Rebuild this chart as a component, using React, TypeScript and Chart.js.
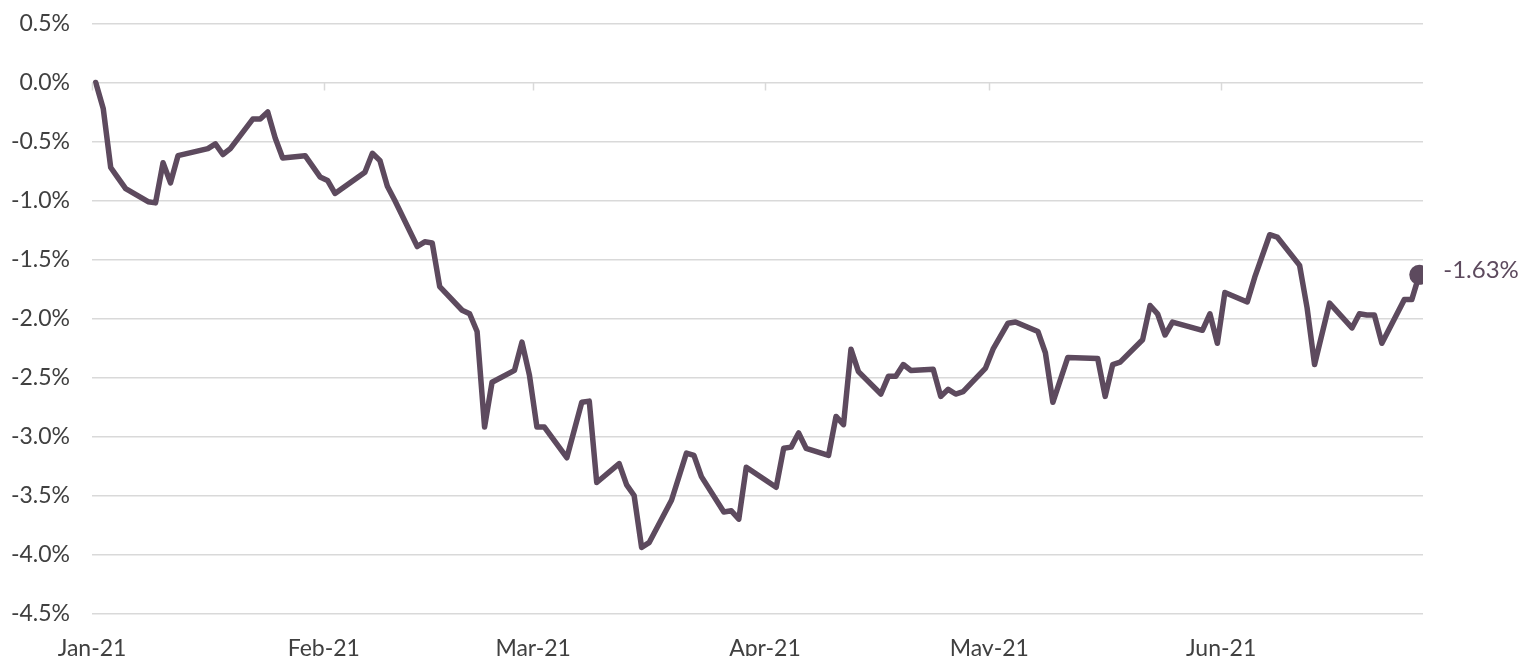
import React, { useEffect, useRef } from 'react';
import { Chart, registerables } from 'chart.js';

Chart.register(...registerables);

// ---- data ----
const baseDate = '2021-01-01';
const axisEndDate = '2021-06-28';

const monthTickDates = ['2021-01-01', '2021-02-01', '2021-03-01', '2021-04-01', '2021-05-01', '2021-06-01'];
const monthTickLabels = ['Jan-21', 'Feb-21', 'Mar-21', 'Apr-21', 'May-21', 'Jun-21'];

const yTickMin = -4.5;
const yTickMax = 0.5;
const yTickStep = 0.5;

const dates = [
  // Jan
  '2021-01-01', '2021-01-02', '2021-01-03', '2021-01-04', '2021-01-05', '2021-01-08', '2021-01-09',
  '2021-01-10', '2021-01-11', '2021-01-12', '2021-01-16', '2021-01-17', '2021-01-18', '2021-01-19',
  '2021-01-22', '2021-01-23', '2021-01-24', '2021-01-25', '2021-01-26', '2021-01-29', '2021-01-31',
  // Feb
  '2021-02-01', '2021-02-02', '2021-02-06', '2021-02-07', '2021-02-08', '2021-02-09', '2021-02-10',
  '2021-02-13', '2021-02-14', '2021-02-15', '2021-02-16', '2021-02-19', '2021-02-20', '2021-02-21',
  '2021-02-22', '2021-02-23', '2021-02-26', '2021-02-27', '2021-02-28',
  // Mar
  '2021-03-01', '2021-03-02', '2021-03-05', '2021-03-07', '2021-03-08', '2021-03-09', '2021-03-12',
  '2021-03-13', '2021-03-14', '2021-03-15', '2021-03-16', '2021-03-19', '2021-03-21', '2021-03-22',
  '2021-03-23', '2021-03-26', '2021-03-27', '2021-03-28', '2021-03-29',
  // Apr
  '2021-04-02', '2021-04-03', '2021-04-04', '2021-04-05', '2021-04-06', '2021-04-09', '2021-04-10',
  '2021-04-11', '2021-04-12', '2021-04-13', '2021-04-16', '2021-04-17', '2021-04-18', '2021-04-19',
  '2021-04-20', '2021-04-23', '2021-04-24', '2021-04-25', '2021-04-26', '2021-04-27', '2021-04-30',
  // May
  '2021-05-01', '2021-05-03', '2021-05-04', '2021-05-07', '2021-05-08', '2021-05-09', '2021-05-11',
  '2021-05-15', '2021-05-16', '2021-05-17', '2021-05-18', '2021-05-21', '2021-05-22', '2021-05-23',
  '2021-05-24', '2021-05-25', '2021-05-29', '2021-05-30', '2021-05-31',
  // Jun
  '2021-06-01', '2021-06-04', '2021-06-05', '2021-06-07', '2021-06-08', '2021-06-11', '2021-06-12',
  '2021-06-13', '2021-06-15', '2021-06-18', '2021-06-19', '2021-06-20', '2021-06-21', '2021-06-22',
  '2021-06-25', '2021-06-26', '2021-06-27',
];

const returnsPct = [
  // Jan
  0.0, -0.22, -0.72, -0.81, -0.9, -1.01, -1.02,
  -0.68, -0.85, -0.62, -0.56, -0.52, -0.61, -0.56,
  -0.31, -0.31, -0.25, -0.47, -0.64, -0.62, -0.8,
  // Feb
  -0.83, -0.94, -0.76, -0.6, -0.66, -0.88, -1.0,
  -1.39, -1.35, -1.36, -1.73, -1.93, -1.96, -2.11,
  -2.92, -2.54, -2.44, -2.2, -2.48,
  // Mar
  -2.92, -2.92, -3.18, -2.71, -2.7, -3.39, -3.23,
  -3.41, -3.5, -3.94, -3.9, -3.54, -3.14, -3.16,
  -3.34, -3.64, -3.63, -3.7, -3.26,
  // Apr
  -3.43, -3.1, -3.09, -2.97, -3.1, -3.16, -2.83,
  -2.9, -2.26, -2.45, -2.64, -2.49, -2.49, -2.39,
  -2.44, -2.43, -2.66, -2.6, -2.64, -2.62, -2.42,
  // May
  -2.26, -2.04, -2.03, -2.11, -2.29, -2.71, -2.33,
  -2.34, -2.66, -2.39, -2.37, -2.18, -1.89, -1.96,
  -2.14, -2.03, -2.1, -1.96, -2.21,
  // Jun
  -1.78, -1.86, -1.65, -1.29, -1.31, -1.55, -1.91,
  -2.39, -1.87, -2.08, -1.96, -1.97, -1.97, -2.21,
  -1.84, -1.84, -1.63,
];

// ---- helpers ----
const DAY = 86400000;
const dayIndex = (d: string) => (Date.parse(d + 'T00:00:00Z') - Date.parse(baseDate + 'T00:00:00Z')) / DAY;

const LINE_COLOR = '#5D4A5E';
const GRID_COLOR = '#D9D9D9';
const TEXT_COLOR = '#404040';
const FONT_FAMILY = 'Lato, "Open Sans", sans-serif';

const zeroLineTicks = {
  id: 'zeroLineTicks',
  afterDraw(chart: any) {
    const { ctx, scales } = chart;
    const xs = scales.x;
    const ys = scales.y;
    const y0 = ys.getPixelForValue(0);
    ctx.save();
    ctx.strokeStyle = GRID_COLOR;
    ctx.lineWidth = 1.5;
    monthTickDates.forEach((d) => {
      const x = Math.round(xs.getPixelForValue(dayIndex(d))) + 0.5;
      ctx.beginPath();
      ctx.moveTo(x, y0);
      ctx.lineTo(x, y0 + 8);
      ctx.stroke();
    });
    ctx.restore();
  },
};

const endLabel = {
  id: 'endLabel',
  afterDatasetsDraw(chart: any) {
    const { ctx } = chart;
    const meta = chart.getDatasetMeta(0);
    const last = meta.data[meta.data.length - 1];
    if (!last) return;
    const v = returnsPct[returnsPct.length - 1];
    ctx.save();
    ctx.fillStyle = LINE_COLOR;
    ctx.font = `400 24px ${FONT_FAMILY}`;
    ctx.textAlign = 'left';
    ctx.textBaseline = 'middle';
    ctx.fillText(`${v.toFixed(2)}%`, last.x + 24, last.y - 5);
    ctx.restore();
  },
};

export default function App() {
  const canvasRef = useRef<HTMLCanvasElement | null>(null);

  useEffect(() => {
    document.body.style.margin = '0';
    const canvas = canvasRef.current;
    if (!canvas) return;
    const points = dates.map((d, i) => ({ x: dayIndex(d) + 0.5, y: returnsPct[i] }));
    const lastIdx = points.length - 1;

    const chart = new Chart(canvas, {
      type: 'line',
      data: {
        datasets: [
          {
            data: points,
            borderColor: LINE_COLOR,
            backgroundColor: LINE_COLOR,
            borderWidth: 5.5,
            borderJoinStyle: 'round',
            borderCapStyle: 'round',
            tension: 0,
            pointRadius: (c: any) => (c.dataIndex === lastIdx ? 10 : 0),
            pointHoverRadius: (c: any) => (c.dataIndex === lastIdx ? 10 : 0),
            pointBorderWidth: 0,
            pointBackgroundColor: LINE_COLOR,
          },
        ],
      },
      options: {
        animation: false,
        responsive: true,
        maintainAspectRatio: false,
        layout: { padding: { top: 23.5, right: 110, left: 0, bottom: 0 } },
        plugins: {
          legend: { display: false },
          tooltip: { enabled: false },
        },
        events: [],
        scales: {
          x: {
            type: 'linear',
            min: 0,
            max: dayIndex(axisEndDate),
            grid: { display: false },
            border: { display: false },
            afterBuildTicks: (scale: any) => {
              scale.ticks = monthTickDates.map((d) => ({ value: dayIndex(d) }));
            },
            afterFit: (scale: any) => {
              scale.height = 42.5;
            },
            ticks: {
              autoSkip: false,
              maxRotation: 0,
              padding: 13,
              color: TEXT_COLOR,
              font: { family: FONT_FAMILY, size: 23 },
              callback: (v: any) => {
                const i = monthTickDates.findIndex((d) => dayIndex(d) === v);
                return i >= 0 ? monthTickLabels[i] : '';
              },
            },
          },
          y: {
            min: yTickMin,
            max: yTickMax,
            grid: { color: GRID_COLOR, lineWidth: 1.5, drawTicks: false },
            border: { display: false },
            afterFit: (scale: any) => {
              scale.width = 92;
              scale.paddingTop = 0;
              scale.paddingBottom = 0;
            },
            ticks: {
              stepSize: yTickStep,
              padding: 22,
              color: TEXT_COLOR,
              font: { family: FONT_FAMILY, size: 23 },
              callback: (v: any) => `${Number(v).toFixed(1)}%`,
            },
          },
        },
      },
      plugins: [zeroLineTicks, endLabel],
    });

    return () => chart.destroy();
  }, []);

  return (
    <div style={{ width: 1533, height: 656, position: 'relative' }}>
      <canvas ref={canvasRef} />
    </div>
  );
}
